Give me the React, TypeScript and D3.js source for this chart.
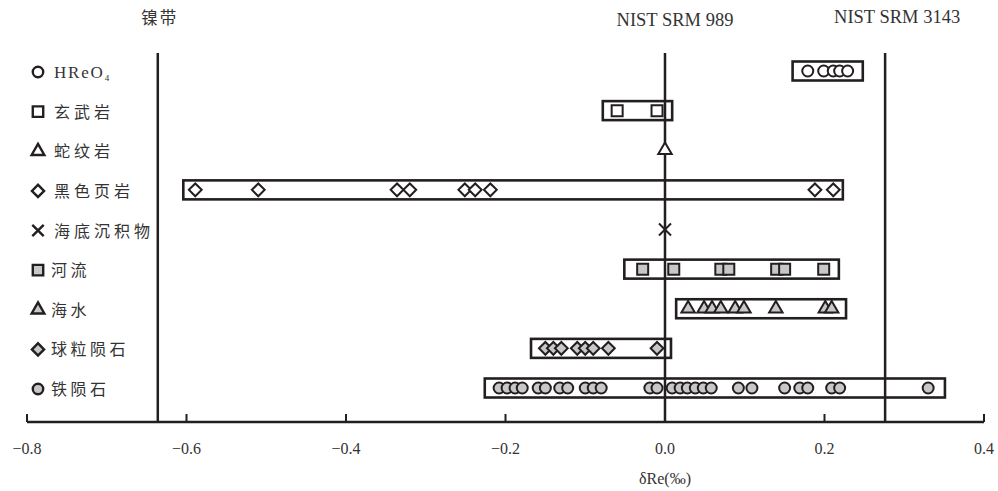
import React from 'react';
import * as d3 from 'd3';

const categories = ['HReO4', '玄武岩', '蛇纹岩', '黑色页岩', '海底沉积物', '河流', '海水', '球粒陨石', '铁陨石'];
const symbolKinds = ['circle', 'square', 'triangle', 'diamond', 'cross', 'square', 'triangle', 'diamond', 'circle'];
const filledFlags = [false, false, false, false, false, true, true, true, true];

const hreo4Values = [0.179, 0.199, 0.211, 0.219, 0.229];
const basaltValues = [-0.06, -0.01];
const serpentiniteValues = [0.0];
const blackShaleValues = [-0.589, -0.51, -0.336, -0.32, -0.251, -0.238, -0.219, 0.188, 0.211];
const seaSedimentValues = [0.0];
const riverValues = [-0.028, 0.011, 0.07, 0.08, 0.14, 0.15, 0.199];
const seawaterValues = [0.029, 0.049, 0.059, 0.07, 0.088, 0.099, 0.139, 0.201, 0.209];
const chondriteValues = [-0.15, -0.14, -0.13, -0.11, -0.1, -0.09, -0.071, -0.01];
const ironMeteoriteValues = [
  -0.208, -0.198, -0.188, -0.179, -0.159, -0.15, -0.132, -0.122, -0.1, -0.09, -0.08,
  -0.019, -0.01, 0.009, 0.019, 0.028, 0.038, 0.048, 0.058, 0.092, 0.109, 0.15, 0.169,
  0.179, 0.209, 0.219, 0.33,
];
const seriesValues = [
  hreo4Values, basaltValues, serpentiniteValues, blackShaleValues, seaSedimentValues,
  riverValues, seawaterValues, chondriteValues, ironMeteoriteValues,
];

// range boxes (min, max) per category; null = no box
const boxLow = [0.16, -0.078, null, -0.604, null, -0.051, 0.014, -0.168, -0.226];
const boxHigh = [0.248, 0.009, null, 0.223, null, 0.218, 0.227, 0.0075, 0.351];

const refValues = [-0.636, 0.0, 0.276];
const refLabels = ['镍带', 'NIST SRM 989', 'NIST SRM 3143'];

const xTicks = [-0.8, -0.6, -0.4, -0.2, 0.0, 0.2, 0.4];
const xDomain = [-0.8, 0.4];
const xTitle = 'δRe(‰)';

const W = 998;
const H = 491;

const x = d3.scaleLinear().domain(xDomain).range([27, 984]);
const y = d3.scalePoint<string>().domain(categories).range([71, 388]);
const axisY = 422;
const lineTop = 53;
const dark = '#231f20';
const grey = '#c8c8c8';

function symbolPath(kind: string, legend = false): { d: string; rotate: number } {
  const k = legend ? 0.9 : 1;
  if (kind === 'circle') return { d: d3.symbol(d3.symbolCircle, 95 * k)() as string, rotate: 0 };
  if (kind === 'square') return { d: d3.symbol(d3.symbolSquare, 121 * k)() as string, rotate: 0 };
  if (kind === 'triangle') return { d: d3.symbol(d3.symbolTriangle, 78 * k)() as string, rotate: 0 };
  if (kind === 'diamond') return { d: d3.symbol(d3.symbolSquare, 82 * k)() as string, rotate: 45 };
  return { d: d3.symbol(d3.symbolTimes, 96 * k)() as string, rotate: 0 };
}

function Marker({ kind, filled, cx, cy, legend }: { kind: string; filled: boolean; cx: number; cy: number; legend?: boolean }) {
  const { d, rotate } = symbolPath(kind, legend);
  const isCross = kind === 'cross';
  return (
    <path
      d={d}
      transform={`translate(${cx},${cy}) rotate(${rotate})`}
      fill={isCross ? 'none' : filled ? grey : '#fff'}
      stroke={dark}
      strokeWidth={legend ? 2.4 : 2}
    />
  );
}

export default function App() {
  const serif = '"Liberation Serif", "Times New Roman", serif';
  const cjk = '"Noto Sans CJK SC", "Noto Sans", sans-serif';
  return (
    <svg width={W} height={H} style={{ position: 'absolute', left: 0, top: 0, background: '#fff' }}>
      {/* reference lines */}
      {refValues.map((v, i) => (
        <g key={'ref' + i}>
          <line x1={x(v)} x2={x(v)} y1={lineTop} y2={axisY} stroke={dark} strokeWidth={2.5} />
          <text
            x={i === 0 ? x(v) + 2 : x(v) + (i === 1 ? 10 : 12)}
            y={i === 1 ? 26 : i === 2 ? 23 : 24}
            textAnchor="middle"
            fontFamily={i === 0 ? cjk : serif}
            fontSize={i === 0 ? 16.5 : 18.5}
            letterSpacing={i === 0 ? 2 : 0}
            fill="#333"
          >
            {refLabels[i]}
          </text>
        </g>
      ))}

      {/* boxes */}
      {categories.map((c, i) =>
        boxLow[i] == null ? null : (
          <rect
            key={'box' + c}
            x={x(boxLow[i] as number)}
            y={(y(c) as number) - 9.5}
            width={x(boxHigh[i] as number) - x(boxLow[i] as number)}
            height={19}
            fill="none"
            stroke={dark}
            strokeWidth={2.6}
          />
        )
      )}

      {/* points */}
      {categories.map((c, i) =>
        seriesValues[i].map((v, j) => (
          <Marker key={c + j} kind={symbolKinds[i]} filled={filledFlags[i]} cx={x(v)} cy={y(c) as number} />
        ))
      )}

      {/* legend */}
      {categories.map((c, i) => {
        const cy = (y(c) as number) + 1;
        const tx = i < 5 ? 54 : 51;
        return (
          <g key={'leg' + c}>
            <Marker kind={symbolKinds[i]} filled={filledFlags[i]} cx={38} cy={cy} legend />
            {c === 'HReO4' ? (
              <text x={tx} y={cy + 6} fontFamily={serif} fontSize={17} fill="#333" letterSpacing={1.8}>
                HReO<tspan fontSize={9} dy={3}>4</tspan>
              </text>
            ) : (
              <text x={tx} y={cy + 6} fontFamily={cjk} fontSize={16} fill="#333" letterSpacing={i < 5 ? 4 : 3.5}>
                {c}
              </text>
            )}
          </g>
        );
      })}

      {/* x axis */}
      <line x1={x(xDomain[0])} x2={x(xDomain[1])} y1={axisY} y2={axisY} stroke={dark} strokeWidth={2.5} />
      {xTicks.map((t) => (
        <g key={'t' + t}>
          <line x1={x(t)} x2={x(t)} y1={axisY} y2={axisY - 8} stroke={dark} strokeWidth={2} />
          <text x={x(t)} y={axisY + 32} textAnchor="middle" fontFamily={serif} fontSize={16} fill="#333">
            {d3.format('.1f')(t)}
          </text>
        </g>
      ))}
      <text x={x(0)} y={484} textAnchor="middle" fontFamily={serif} fontSize={16} fill="#333">
        {xTitle}
      </text>
    </svg>
  );
}
